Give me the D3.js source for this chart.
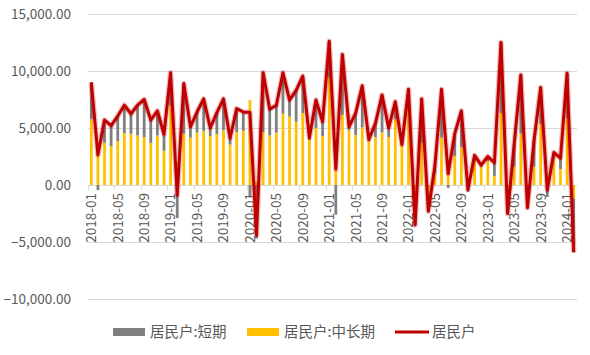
<!DOCTYPE html>
<html><head><meta charset="utf-8">
<script src="https://cdn.jsdelivr.net/npm/d3@7"></script>
<style>body{margin:0;background:#fff}svg{display:block}</style>
</head><body>
<script>
const months = ["2018-01","2018-02","2018-03","2018-04","2018-05","2018-06","2018-07","2018-08","2018-09","2018-10","2018-11","2018-12",
"2019-01","2019-02","2019-03","2019-04","2019-05","2019-06","2019-07","2019-08","2019-09","2019-10","2019-11","2019-12",
"2020-01","2020-02","2020-03","2020-04","2020-05","2020-06","2020-07","2020-08","2020-09","2020-10","2020-11","2020-12",
"2021-01","2021-02","2021-03","2021-04","2021-05","2021-06","2021-07","2021-08","2021-09","2021-10","2021-11","2021-12",
"2022-01","2022-02","2022-03","2022-04","2022-05","2022-06","2022-07","2022-08","2022-09","2022-10","2022-11","2022-12",
"2023-01","2023-02","2023-03","2023-04","2023-05","2023-06","2023-07","2023-08","2023-09","2023-10","2023-11","2023-12",
"2024-01","2024-02"];
// 居民户:短期
const shortTerm = [3250,-450,2000,1800,2200,2450,1750,2650,3300,2000,2150,1450,
2900,-2900,4400,950,1800,2800,700,1900,2750,550,2050,1650,
-1100,-4700,5200,2300,2400,3600,1450,2750,3250,200,2450,1250,
3200,-2600,5300,300,1900,3650,150,1200,3300,800,1550,50,
1600,-3000,3850,-1600,700,4250,-250,1950,3200,-600,500,150,
400,1150,6200,-1300,2000,5150,-1300,2300,3200,-1050,500,950,
3950,-4700];
// 居民户:中长期
const midLong = [5750,3100,3700,3400,3850,4550,4500,4350,4200,3700,4350,3000,
6950,2000,4500,4150,4600,4750,4300,4450,4800,3550,4650,4750,
7450,300,4650,4350,4600,6250,6000,5550,6300,3950,5000,4300,
9400,1300,6150,4800,4400,5050,3850,4200,4600,4200,5750,3500,
6800,-500,3700,-700,1000,4150,1250,2550,3300,200,2100,1600,
2100,800,6300,-1200,1600,4500,-700,1600,5350,600,2350,1400,
5850,-1200];
// 居民户
const household = [9000,2650,5700,5200,6050,7000,6250,7000,7500,5700,6500,4450,
9850,-900,8900,5100,6400,7550,5000,6350,7550,4100,6700,6400,
6350,-4400,9850,6650,7000,9850,7450,8300,9550,4150,7450,5550,
12600,1400,11450,5100,6300,8700,4000,5400,7900,5000,7300,3550,
8400,-3500,7550,-2300,1700,8400,1000,4500,6500,-400,2600,1750,
2500,1950,12500,-2500,3600,9650,-2000,3900,8550,-450,2850,2350,
9800,-5900];
const yTicks = [-10000,-5000,0,5000,10000,15000];
const seriesNames = ["居民户:短期","居民户:中长期","居民户"];
const colors = {short:"#7f7f7f", mid:"#ffc000", line:"#c00000"};

const W=590,H=355, L=88, R=577, T=14, B=299;
const svg = d3.select("body").append("svg").attr("width",W).attr("height",H);
const font = "'Noto Sans CJK SC','Liberation Sans',Arial,sans-serif";

const x = d3.scaleBand().domain(months).range([L,R]).padding(0);
const y = d3.scaleLinear().domain([-10000,15000]).range([B,T]);

// grid
svg.append("g").selectAll("line").data(yTicks).join("line")
  .attr("x1",L).attr("x2",R).attr("y1",d=>Math.round(y(d))+0.5).attr("y2",d=>Math.round(y(d))+0.5)
  .attr("stroke","#d9d9d9").attr("stroke-width",1);

// y labels
svg.append("g").selectAll("text").data(yTicks).join("text")
  .attr("x",71).attr("y",d=>y(d)).attr("dy","0.36em").attr("text-anchor","end")
  .attr("font-family",font).attr("font-size","13.5px").attr("fill","#595959")
  .text(d=>d3.format(",.2f")(d));

// stacked bars
const rows = months.map((m,i)=>({m, mid:midLong[i], short:shortTerm[i]}));
const stack = d3.stack().keys(["mid","short"]).offset(d3.stackOffsetDiverging)(rows);
const bw = x.bandwidth()*0.42;
svg.append("g").selectAll("g").data(stack).join("g")
  .attr("fill",d=>colors[d.key])
  .selectAll("rect").data(d=>d).join("rect")
  .attr("x",d=>x(d.data.m)+(x.bandwidth()-bw)/2)
  .attr("width",bw)
  .attr("y",d=>y(Math.max(d[0],d[1])))
  .attr("height",d=>Math.abs(y(d[0])-y(d[1])));

// x axis ticks
const tickIdx = d3.range(0, months.length, 4);
svg.append("g").selectAll("line").data(tickIdx).join("line")
  .attr("x1",i=>Math.round(x(months[i]))+0.5).attr("x2",i=>Math.round(x(months[i]))+0.5)
  .attr("y1",y(0)).attr("y2",y(0)+5).attr("stroke","#d9d9d9");

// x labels
svg.append("g").selectAll("text").data(tickIdx).join("text")
  .attr("transform",i=>`translate(${x(months[i])+x.bandwidth()/2},193) rotate(-90)`)
  .attr("dy","0.36em").attr("text-anchor","end")
  .attr("font-family",font).attr("font-size","13.5px").attr("fill","#595959")
  .text(i=>months[i]);

// line
const line = d3.line().x((d,i)=>x(months[i])+x.bandwidth()/2).y(d=>y(d));
svg.append("path").datum(household).attr("d",line).attr("fill","none")
  .attr("stroke",colors.line).attr("stroke-opacity",0.25).attr("stroke-width",5.5).attr("stroke-linejoin","round");
svg.append("path").datum(household).attr("d",line).attr("fill","none")
  .attr("stroke",colors.line).attr("stroke-width",3).attr("stroke-linejoin","round");

// legend
const lg = svg.append("g").attr("font-family",font).attr("font-size","14.5px").attr("fill","#595959");
const items = [{t:seriesNames[0],c:colors.short,x:113,type:"rect"},{t:seriesNames[1],c:colors.mid,x:247,type:"rect"},{t:seriesNames[2],c:colors.line,x:395,type:"line"}];
items.forEach(it=>{
  if(it.type==="rect") lg.append("rect").attr("x",it.x).attr("y",328).attr("width",32).attr("height",8).attr("fill",it.c);
  else lg.append("line").attr("x1",it.x).attr("x2",it.x+34).attr("y1",332).attr("y2",332).attr("stroke",it.c).attr("stroke-width",3);
  lg.append("text").attr("x",it.x+(it.type==="rect"?37:37)).attr("y",332).attr("dy","0.36em").text(it.t);
});
</script>
</body></html>
